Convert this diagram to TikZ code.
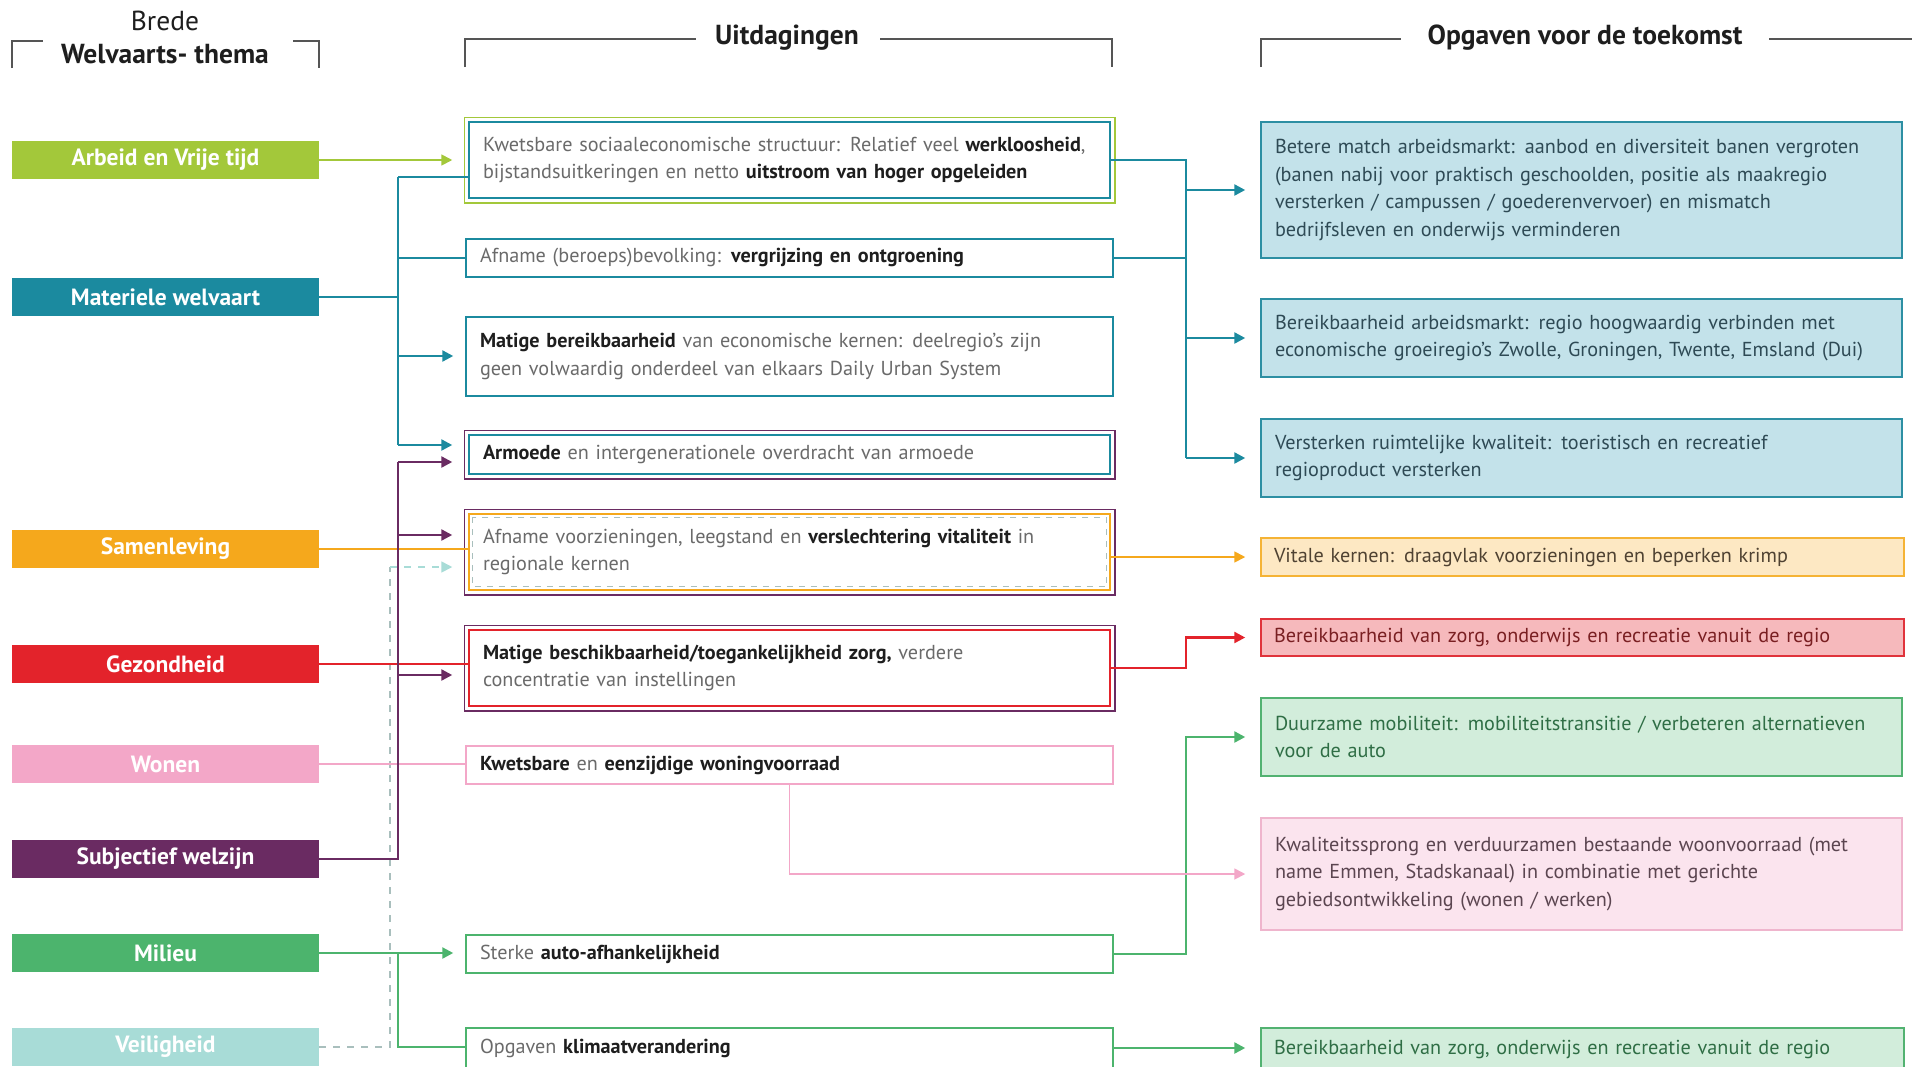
\documentclass[tikz,border=0pt]{standalone}
\usepackage{fontspec}
\setmainfont{PT Sans}
\usetikzlibrary{arrows.meta}
\definecolor{clime}{HTML}{A3C83A}
\definecolor{cteal}{HTML}{1B8A9F}
\definecolor{corange}{HTML}{F5A81C}
\definecolor{cred}{HTML}{E3232B}
\definecolor{cpink}{HTML}{F3A7C8}
\definecolor{cpurple}{HTML}{6A2B62}
\definecolor{cgreen}{HTML}{4CB46D}
\definecolor{cvei}{HTML}{A8DCD7}
\definecolor{cdash}{HTML}{A9BFBD}
\definecolor{txtgray}{HTML}{6A6A6A}
\definecolor{txtdark}{HTML}{1E1E1E}
\definecolor{rtealF}{HTML}{C3E2EA}
\definecolor{rtealB}{HTML}{2D8FA3}
\definecolor{rtealT}{HTML}{2E4A55}
\definecolor{rorF}{HTML}{FDE8C3}
\definecolor{rorB}{HTML}{F5B335}
\definecolor{rorT}{HTML}{4F4232}
\definecolor{rredF}{HTML}{F6B9BC}
\definecolor{rredB}{HTML}{E0333B}
\definecolor{rredT}{HTML}{7A1F22}
\definecolor{rgrF}{HTML}{D2EDDB}
\definecolor{rgrB}{HTML}{52B271}
\definecolor{rgrT}{HTML}{2F6E45}
\definecolor{rpkF}{HTML}{FBE4EE}
\definecolor{rpkB}{HTML}{EFB5CD}
\definecolor{rpkT}{HTML}{5B4550}
\definecolor{hdrgray}{HTML}{555555}
\newcommand\bk[1]{{\color{txtdark}\bfseries #1}}
\begin{document}
\begin{tikzpicture}[x=1pt,y=-1pt,
  font=\fontsize{20.2}{27.5}\selectfont,
  theme/.style={minimum width=307pt, minimum height=38pt, inner sep=0pt, text=white, font=\fontsize{23.5}{26}\selectfont\bfseries},
  mbox/.style={draw=#1, line width=1.5pt, fill=white, minimum width=647pt, text width=619pt, align=left, inner xsep=14pt, inner ysep=0pt, text=txtgray},
  mboxi/.style={mbox=#1, minimum width=641pt, text width=613pt},
  rbox/.style={line width=1.5pt, minimum width=641pt, text width=613pt, inner xsep=14pt, inner ysep=0pt, align=left},
  conn/.style={draw=#1, line width=2.4pt},
  thin/.style={draw=#1, line width=1.7pt},
  arr/.style={-{Triangle[length=11pt,width=11pt]}},
  hdr/.style={draw=hdrgray, line width=1.5pt},
  hfont/.style={font=\fontsize{27.5}{30}\selectfont\bfseries, text=txtdark}
]
\useasboundingbox (0,0) rectangle (1914,1066);
\fill[white] (0,0) rectangle (1914,1066);

% headers
\node[font=\fontsize{27.5}{30}\selectfont, text=txtdark] (hBrede) at (165,21) {Brede};
\node[hfont] (hWel) at (165,54) {Welvaarts- thema};
\draw[hdr] (12,68) -- (12,41) -- (43,41);
\draw[hdr] (293,41) -- (319,41) -- (319,68);
\node[hfont] (hUit) at (787,38) {Uitdagingen};
\draw[hdr] (465,67) -- (465,39) -- (696,39);
\draw[hdr] (880,39) -- (1112,39) -- (1112,67);
\node[hfont] (hOpg) at (1585,38) {Opgaven voor de toekomst};
\draw[hdr] (1261,67) -- (1261,39) -- (1401,39);
\draw[hdr] (1769,39) -- (1912,39);

% theme boxes
\node[theme, fill=clime] (tArb) at (165.5,160) {Arbeid en Vrije tijd};
\node[theme, fill=cteal] (tMat) at (165.5,297) {Materiele welvaart};
\node[theme, fill=corange] (tSam) at (165.5,549) {Samenleving};
\node[theme, fill=cred] (tGez) at (165.5,664) {Gezondheid};
\node[theme, fill=cpink] (tWon) at (165.5,764) {Wonen};
\node[theme, fill=cpurple] (tSub) at (165.5,859) {Subjectief welzijn};
\node[theme, fill=cgreen] (tMil) at (165.5,953) {Milieu};
\node[theme, fill=cvei] (tVei) at (165.5,1047) {Veiligheid};

% middle boxes
\node[mboxi=cteal, minimum height=76pt] (m1) at (789.5,160) {Kwetsbare sociaaleconomische structuur: Relatief veel \bk{werkloosheid},\\bijstandsuitkeringen en netto \bk{uitstroom van hoger opgeleiden}};
\draw[clime, line width=1.5pt] ([shift={(-4pt,4pt)}]m1.north west) rectangle ([shift={(4pt,-4pt)}]m1.south east);
\node[mbox=cteal, minimum height=38pt] (m2) at (789.5,258) {Afname (beroeps)bevolking: \bk{vergrijzing en ontgroening}};
\node[mbox=cteal, minimum height=79pt] (m3) at (789.5,356.5) {\bk{Matige bereikbaarheid} van economische kernen: deelregio's zijn\\geen volwaardig onderdeel van elkaars Daily Urban System};
\node[mboxi=cteal, minimum height=39pt] (m4) at (789.5,454.5) {\bk{Armoede} en intergenerationele overdracht van armoede};
\draw[cpurple, line width=1.5pt] ([shift={(-4pt,4pt)}]m4.north west) rectangle ([shift={(4pt,-4pt)}]m4.south east);
\node[mboxi=corange, minimum height=76pt] (m5) at (789.5,552) {Afname voorzieningen, leegstand en \bk{verslechtering vitaliteit} in\\regionale kernen};
\draw[cpurple, line width=1.5pt] ([shift={(-4pt,4pt)}]m5.north west) rectangle ([shift={(4pt,-4pt)}]m5.south east);
\draw[cdash, line width=1.3pt, dash pattern=on 6pt off 6pt] ([shift={(4pt,-4pt)}]m5.north west) rectangle ([shift={(-4pt,4pt)}]m5.south east);
\node[mboxi=cred, minimum height=76pt] (m6) at (789.5,668) {\bk{Matige beschikbaarheid/toegankelijkheid zorg,} verdere\\concentratie van instellingen};
\draw[cpurple, line width=1.5pt] ([shift={(-4pt,4pt)}]m6.north west) rectangle ([shift={(4pt,-4pt)}]m6.south east);
\node[mbox=cpink, minimum height=38pt] (m7) at (789.5,765) {\bk{Kwetsbare} en \bk{eenzijdige woningvoorraad}};
\node[mbox=cgreen, minimum height=38pt] (m8) at (789.5,954) {Sterke \bk{auto-afhankelijkheid}};
\node[mbox=cgreen, minimum height=40pt] (m9) at (789.5,1048) {Opgaven \bk{klimaatverandering}};

% right boxes
\node[rbox, draw=rtealB, fill=rtealF, text=rtealT, minimum height=136pt] (r1) at (1581.5,190) {Betere match arbeidsmarkt: aanbod en diversiteit banen vergroten\\(banen nabij voor praktisch geschoolden, positie als maakregio\\versterken / campussen / goederenvervoer) en mismatch\\bedrijfsleven en onderwijs verminderen};
\node[rbox, draw=rtealB, fill=rtealF, text=rtealT, minimum height=78pt] (r2) at (1581.5,338) {Bereikbaarheid arbeidsmarkt: regio hoogwaardig verbinden met\\economische groeiregio's Zwolle, Groningen, Twente, Emsland (Dui)};
\node[rbox, draw=rtealB, fill=rtealF, text=rtealT, minimum height=78pt] (r3) at (1581.5,458) {Versterken ruimtelijke kwaliteit: toeristisch en recreatief\\regioproduct versterken};
\node[rbox, draw=rorB, fill=rorF, text=rorT, minimum height=38pt, minimum width=643pt, text width=617pt, inner xsep=13pt] (r4) at (1582.5,557) {Vitale kernen: draagvlak voorzieningen en beperken krimp};
\node[rbox, draw=rredB, fill=rredF, text=rredT, minimum height=37pt, minimum width=643pt, text width=617pt, inner xsep=13pt] (r5) at (1582.5,637.5) {Bereikbaarheid van zorg, onderwijs en recreatie vanuit de regio};
\node[rbox, draw=rgrB, fill=rgrF, text=rgrT, minimum height=78pt] (r6) at (1581.5,737) {Duurzame mobiliteit: mobiliteitstransitie / verbeteren alternatieven\\voor de auto};
\node[rbox, draw=rpkB, fill=rpkF, text=rpkT, minimum height=112pt] (r7) at (1581.5,874) {Kwaliteitssprong en verduurzamen bestaande woonvoorraad (met\\name Emmen, Stadskanaal) in combinatie met gerichte\\gebiedsontwikkeling (wonen / werken)};
\node[rbox, draw=rgrB, fill=rgrF, text=rgrT, minimum height=42pt, minimum width=643pt, text width=617pt, inner xsep=13pt] (r8) at (1582.5,1049) {Bereikbaarheid van zorg, onderwijs en recreatie vanuit de regio};

% left connectors
\coordinate (tT0) at (398,297);
\coordinate (tT1) at (398,177);
\coordinate (tT2) at (398,258);
\coordinate (tT3) at (398,356);
\coordinate (tT4) at (398,445);
\draw[thin=clime, arr, shorten >=16pt] (tArb.east) -- (tArb.east -| m1.west);
\draw[conn=cteal] (tMat.east) -- (tT0);
\draw[conn=cteal] (tT1) -- (tT4);
\draw[conn=cteal] (tT1) -- (tT1 -| m1.west);
\draw[conn=cteal] (tT2) -- (m2.west);
\draw[conn=cteal, arr, shorten >=12pt] (tT3) -- (tT3 -| m3.west);
\draw[conn=cteal, arr, shorten >=16pt] (tT4) -- (tT4 -| m4.west);

\coordinate (vT0) at (390,1047);
\coordinate (vT1) at (390,567);
\draw[draw=cdash, line width=1.7pt, dash pattern=on 7pt off 7pt] (tVei.east) -- (vT0) -- (vT1);
\draw[draw=cvei, line width=1.7pt, dash pattern=on 7pt off 7pt, arr, shorten >=16pt] (vT1) -- (vT1 -| m5.west);

\draw[thin=corange] (tSam.east) -- (tSam.east -| m5.west);
\draw[thin=cred] (tGez.east) -- (tGez.east -| m6.west);
\draw[thin=cpink] (tWon.east) -- (tWon.east -| m7.west);

\coordinate (pT0) at (398,859);
\coordinate (pT1) at (398,462);
\coordinate (pT2) at (398,535);
\coordinate (pT3) at (398,675);
\draw[conn=cpurple] (tSub.east) -- (pT0) -- (pT1);
\draw[conn=cpurple, arr, shorten >=16pt] (pT1) -- (pT1 -| m4.west);
\draw[conn=cpurple, arr, shorten >=16pt] (pT2) -- (pT2 -| m5.west);
\draw[conn=cpurple, arr, shorten >=16pt] (pT3) -- (pT3 -| m6.west);

\coordinate (gT0) at (398,953);
\coordinate (gT1) at (398,1047);
\draw[conn=cgreen, arr, shorten >=12pt] (tMil.east) -- (tMil.east -| m8.west);
\draw[conn=cgreen] (gT0) -- (gT1) -- (gT1 -| m9.west);

% right connectors
\coordinate (RT1) at (1186,160);
\coordinate (RT2) at (1186,258);
\coordinate (Ra1) at (1186,190);
\coordinate (Ra2) at (1186,338);
\coordinate (Ra3) at (1186,458);
\draw[conn=cteal] (m1.east) -- (RT1) -- (Ra3);
\draw[conn=cteal] (m2.east) -- (RT2);
\draw[conn=cteal, arr, shorten >=15pt] (Ra1) -- (Ra1 -| r1.west);
\draw[conn=cteal, arr, shorten >=15pt] (Ra2) -- (Ra2 -| r2.west);
\draw[conn=cteal, arr, shorten >=15pt] (Ra3) -- (Ra3 -| r3.west);

\draw[thin=corange, arr, shorten >=15pt] (r4.west -| m5.east) -- (r4.west);
\coordinate (Rr) at (1186,637.5);
\draw[conn=cred, arr, shorten >=15pt] (m6.east) -- (m6.east -| Rr) -- (Rr) -- (r5.west);
\coordinate (Rg) at (1186,737);
\draw[conn=cgreen, arr, shorten >=15pt] (m8.east) -- (m8.east -| Rg) -- (Rg) -- (r6.west);
\coordinate (pk) at (789.5,874);
\draw[thin=cpink, arr, shorten >=15pt] (m7.south) -- (pk) -- (r7.west);
\draw[conn=cgreen, arr, shorten >=15pt] (m9.east) -- (m9.east -| r8.west);
\end{tikzpicture}
\end{document}
